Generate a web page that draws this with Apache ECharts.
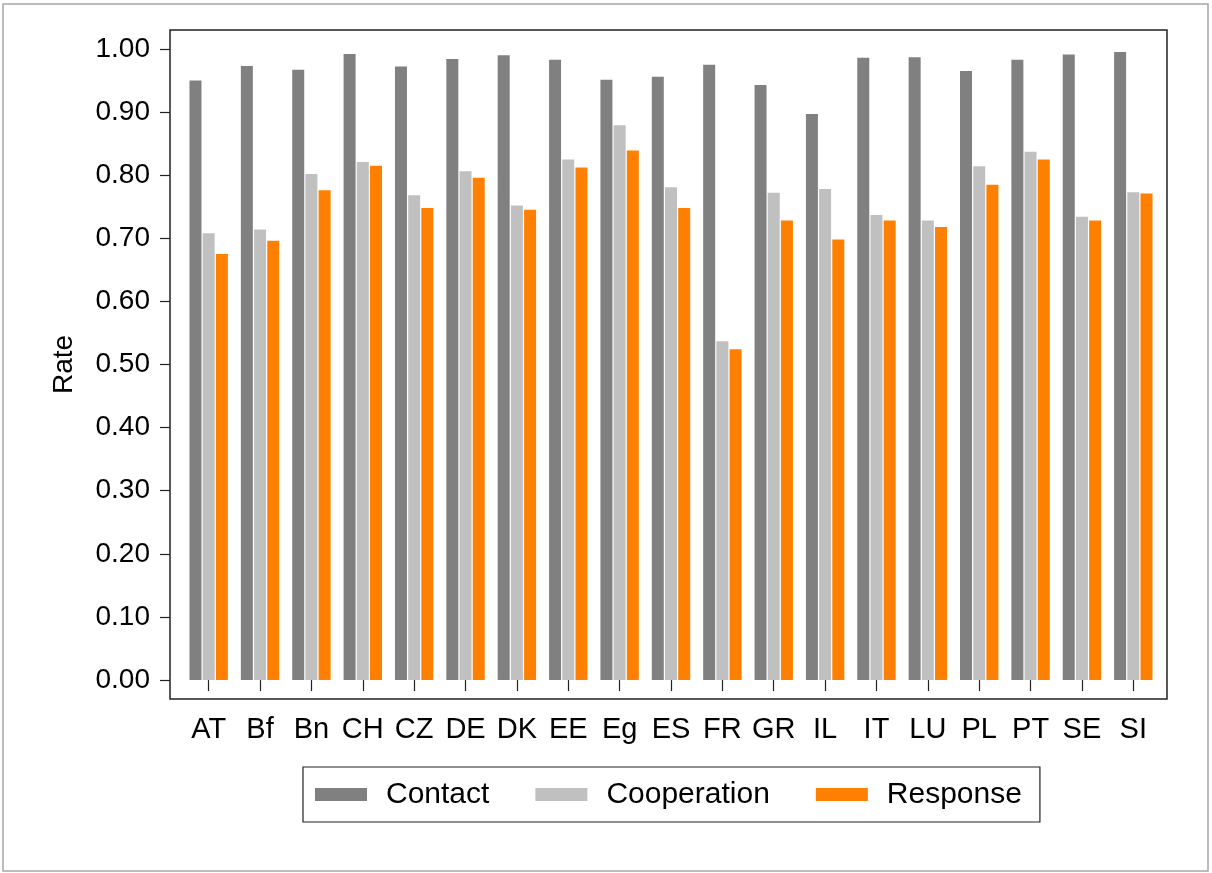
<!DOCTYPE html>
<html>
<head>
<meta charset="utf-8">
<script src="https://cdn.jsdelivr.net/npm/echarts@6/dist/echarts.min.js"></script>
<style>
    html, body { margin: 0; padding: 0; background: #fff; }
    #chart { width: 1212px; height: 873px; }
</style>
</head>
<body>
<div id="chart"></div>
<script>
const categories = ['AT', 'Bf', 'Bn', 'CH', 'CZ', 'DE', 'DK', 'EE', 'Eg', 'ES', 'FR', 'GR', 'IL', 'IT', 'LU', 'PL', 'PT', 'SE', 'SI']
const contact = [.950, .973, .967, .992, .972, .984, .990, .983, .951, .956, .975, .943, .897, .986, .987, .965, .983, .991, .995]
const cooperation = [.708, .714, .802, .821, .768, .806, .752, .825, .879, .781, .537, .772, .778, .737, .728, .814, .837, .734, .773]
const response = [.675, .696, .776, .815, .748, .796, .745, .812, .839, .748, .524, .728, .698, .728, .718, .785, .825, .728, .771]
const yTicks = [0, .1, .2, .3, .4, .5, .6, .7, .8, .9, 1]

const color = {'Contact': '#808080', 'Cooperation': '#c0c0c0', 'Response': '#ff8000'}
const font = 'Liberation Sans, Arial, sans-serif'

const myChart = echarts.init(document.getElementById('chart'))

const bar = (name, data) => ({
    name: name,
    type: 'bar',
    data: data,
    barWidth: 12,
    barGap: '10%',
    itemStyle: { color: color[name] }
})

const option = {
    backgroundColor: '#fff',
    animation: false,
    textStyle: { fontFamily: font },
    grid: {
        left: 183,
        right: 53,
        top: 30,
        bottom: 174
    },
    legend: {
        left: 303,
        top: 767,
        orient: 'horizontal',
        icon: 'rect',
        itemWidth: 52,
        itemHeight: 13,
        itemGap: 46,
        padding: [11, 18, 11, 12],
        borderColor: '#222',
        borderWidth: 1.2,
        textStyle: {
            fontSize: 30,
            color: '#000',
            fontFamily: font,
            padding: [0, 0, 0, 14],
            lineHeight: 33
        },
        data: Object.keys(color)
    },
    xAxis: {
        type: 'category',
        data: categories,
        axisLine: { show: false },
        axisTick: {
            show: true,
            alignWithLabel: true,
            length: 11,
            lineStyle: { color: '#222', width: 1.2 }
        },
        axisLabel: {
            color: '#000',
            fontSize: 29,
            margin: 16,
            interval: 0
        },
        splitLine: { show: false }
    },
    yAxis: {
        type: 'value',
        min: -0.03,
        max: 1.03,
        offset: 13,
        name: 'Rate',
        nameLocation: 'middle',
        nameGap: 92,
        nameTextStyle: {
            fontSize: 28,
            color: '#000'
        },
        axisLine: { show: false },
        axisTick: {
            show: true,
            length: 10,
            customValues: yTicks,
            lineStyle: { color: '#222', width: 1.2 }
        },
        axisLabel: {
            color: '#000',
            fontSize: 28,
            margin: 20,
            customValues: yTicks,
            formatter(value) {
                return value.toFixed(2)
            }
        },
        splitLine: { show: false }
    },
    graphic: [
        {
            type: 'rect',
            shape: { x: 3, y: 4, width: 1205, height: 867 },
            style: { fill: null, stroke: '#a6a6a6', lineWidth: 1.5 },
            silent: true
        },
        {
            type: 'rect',
            shape: { x: 170, y: 30, width: 997, height: 669 },
            style: { fill: null, stroke: '#222', lineWidth: 1.5 },
            silent: true
        }
    ],
    series: [
        bar('Contact', contact),
        bar('Cooperation', cooperation),
        bar('Response', response)
    ]
}

myChart.setOption(option)
</script>
</body>
</html>
